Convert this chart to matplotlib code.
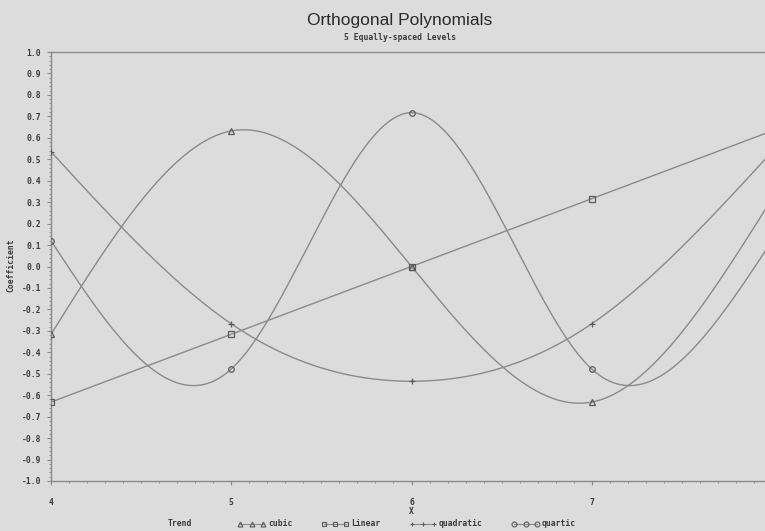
import numpy as np
import matplotlib
matplotlib.use("Agg")
import matplotlib.pyplot as plt
from matplotlib.ticker import MultipleLocator, FixedLocator

# ---- data ----
levels = [4, 5, 6, 7, 8]
cubic = [-0.316, 0.632, 0.0, -0.632, 0.316]
linear = [-0.632, -0.316, 0.0, 0.316, 0.632]
quadratic = [0.535, -0.267, -0.535, -0.267, 0.535]
quartic = [0.120, -0.478, 0.717, -0.478, 0.120]
series_names = ["cubic", "Linear", "quadratic", "quartic"]
series_vals = [cubic, linear, quadratic, quartic]
markers = ["^", "s", "+", "o"]
y_ticks = [round(v, 1) for v in np.arange(-1.0, 1.01, 0.1)]
x_ticks = [4, 5, 6, 7, 8]
x_tick_labels = ["4", "5", "6", "7", ""]


def natural_spline(x, y, xs):
    x = np.asarray(x, float)
    y = np.asarray(y, float)
    n = len(x)
    h = np.diff(x)
    A = np.zeros((n, n))
    b = np.zeros(n)
    A[0, 0] = 1
    A[-1, -1] = 1
    for i in range(1, n - 1):
        A[i, i - 1] = h[i - 1]
        A[i, i] = 2 * (h[i - 1] + h[i])
        A[i, i + 1] = h[i]
        b[i] = 6 * ((y[i + 1] - y[i]) / h[i] - (y[i] - y[i - 1]) / h[i - 1])
    M = np.linalg.solve(A, b)
    out = np.empty_like(xs)
    for k, xv in enumerate(xs):
        i = min(max(np.searchsorted(x, xv) - 1, 0), n - 2)
        t0 = x[i + 1] - xv
        t1 = xv - x[i]
        hi = h[i]
        out[k] = (M[i] * t0 ** 3 / (6 * hi) + M[i + 1] * t1 ** 3 / (6 * hi)
                  + (y[i] / hi - M[i] * hi / 6) * t0
                  + (y[i + 1] / hi - M[i + 1] * hi / 6) * t1)
    return out


bg = "#dcdcdc"
lc = "#8a8a8a"
mc = "#5a5a5a"
tc = "#3a3a3a"

W, H = 765, 531
fig = plt.figure(figsize=(W / 100, H / 100), dpi=100, facecolor=bg)
left, right, top, bottom = 51, 772, 52, 481
ax = fig.add_axes([left / W, 1 - bottom / H, (right - left) / W, (bottom - top) / H])
ax.set_facecolor(bg)

xs = np.linspace(4, 8, 400)
handles = []
for name, vals, mk in zip(series_names, series_vals, markers):
    ys = natural_spline(levels, vals, xs)
    ax.plot(xs, ys, color=lc, lw=1.0, zorder=2)
    ax.plot(levels, vals, ls="none", marker=mk, ms=4, mfc="none", mec=mc, mew=0.9, zorder=3)
    h, = ax.plot([], [], color=lc, lw=0.8, marker=mk, ms=3.5, mfc="none", mec=mc, mew=0.8, label=name)
    handles.append(h)

ax.set_xlim(4, 8)
ax.set_ylim(-1.0, 1.0)
ax.xaxis.set_major_locator(FixedLocator(x_ticks))
ax.xaxis.set_minor_locator(MultipleLocator(0.1))
ax.yaxis.set_major_locator(FixedLocator(y_ticks))
ax.yaxis.set_minor_locator(MultipleLocator(0.02))
ax.set_xticklabels(x_tick_labels)
ax.set_yticklabels([f"{v:.1f}" if v != 0 else "0.0" for v in y_ticks])

tick_font = dict(family="DejaVu Sans Mono", weight="bold", size=5.8)
for lab in ax.get_xticklabels() + ax.get_yticklabels():
    lab.set_fontfamily("DejaVu Sans Mono")
    lab.set_fontweight("bold")
    lab.set_fontsize(5.8)
    lab.set_color(tc)

ax.tick_params(axis="both", which="major", direction="out", length=3, width=0.8, color=lc, pad=4)
ax.tick_params(axis="both", which="minor", direction="out", length=1.6, width=0.6, color=lc)
ax.tick_params(axis="x", which="major", pad=9)
for s in ax.spines.values():
    s.set_color(lc)
    s.set_linewidth(1.0)

fig.text(400 / W, 1 - 20 / H, "Orthogonal Polynomials", ha="center", va="center",
         fontsize=12.5, family="Liberation Sans", color="#2a2a2a")
fig.text(400 / W, 1 - 38 / H, "5 Equally-spaced Levels", ha="center", va="center",
         **tick_font, color=tc)
fig.text(11 / W, 1 - 265 / H, "Coefficient", rotation=90, ha="center", va="center",
         **tick_font, color=tc)
fig.text(411 / W, 1 - 512 / H, "X", ha="center", va="center", **tick_font, color=tc)
fig.text(180 / W, 1 - 524 / H, "Trend", ha="center", va="center", **tick_font, color=tc)

leg = fig.legend(handles=handles, loc="center", bbox_to_anchor=(407 / W, 1 - 524 / H),
                 ncol=4, frameon=False, numpoints=3, handlelength=3.4, handletextpad=0.3,
                 columnspacing=3.6, borderpad=0.1,
                 prop=dict(family="DejaVu Sans Mono", weight="bold", size=5.8))
for t in leg.get_texts():
    t.set_color(tc)

fig.savefig("out.png", dpi=100, facecolor=bg)
